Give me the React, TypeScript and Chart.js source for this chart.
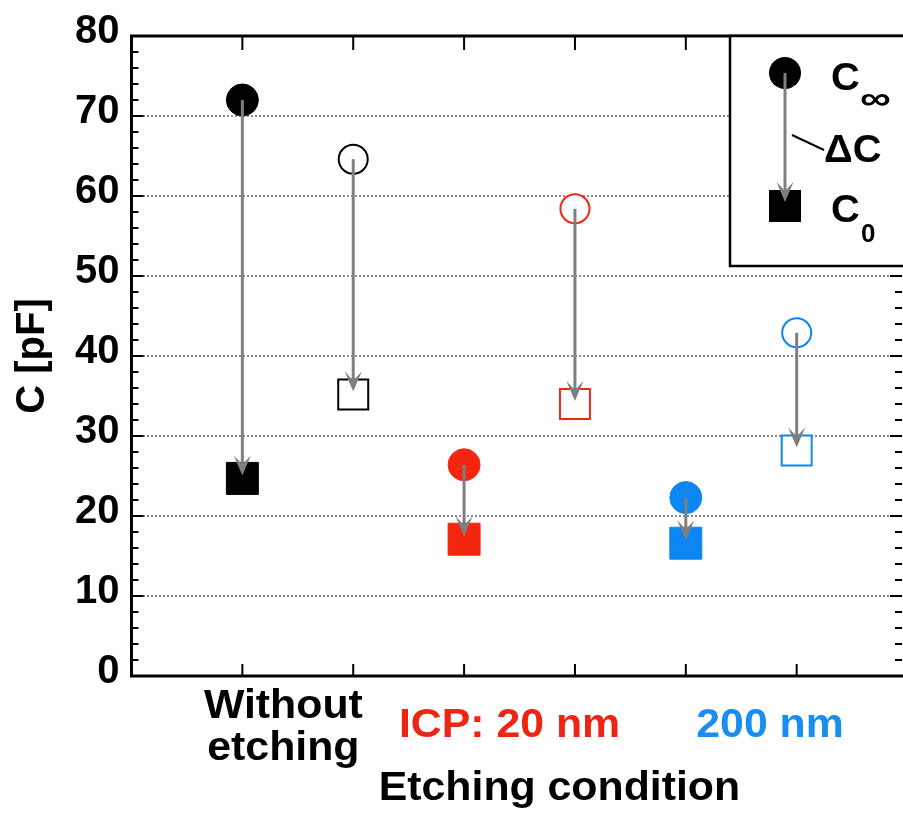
import React, { useEffect, useRef } from 'react';
import { Chart, registerables } from 'chart.js';

Chart.register(...registerables);

// ---- data ----
const conditions = [
  'Without etching (filled)',
  'Without etching (open)',
  'ICP 20 nm (filled)',
  'ICP 20 nm (open)',
  'ICP 200 nm (filled)',
  'ICP 200 nm (open)',
];
const xPositions = [1, 2, 3, 4, 5, 6];
const cInfinity = [72.0, 64.6, 26.4, 58.4, 22.3, 42.9];
const cZero = [24.7, 35.2, 17.1, 34.0, 16.6, 28.2];
const markerColors = ['#000000', '#000000', '#f5260f', '#f5260f', '#0b86f2', '#0b86f2'];
const markerFilled = [true, false, true, false, true, false];
const yTickValues = [0, 10, 20, 30, 40, 50, 60, 70, 80];
const groupLabels = [['Without', 'etching'], ['ICP: 20 nm'], ['200 nm']];
const groupLabelColors = ['#000000', '#ee2414', '#1a8ef0'];

const FONT = '"Liberation Sans", Arial, Helvetica, sans-serif';
const GROUP_ANCHORS = [1.37, 3.41, 5.76];
const ARROW = '#7f7f7f';

function drawArrow(ctx: CanvasRenderingContext2D, x: number, y1: number, y2: number) {
  const headLen = 20;
  const halfW = 8.5;
  const notch = 9;
  ctx.save();
  ctx.strokeStyle = ARROW;
  ctx.fillStyle = ARROW;
  ctx.lineWidth = 3;
  ctx.beginPath();
  ctx.moveTo(x, y1);
  ctx.lineTo(x, y2 - notch);
  ctx.stroke();
  ctx.beginPath();
  ctx.moveTo(x, y2);
  ctx.lineTo(x - halfW, y2 - headLen);
  ctx.lineTo(x, y2 - headLen + notch);
  ctx.lineTo(x + halfW, y2 - headLen);
  ctx.closePath();
  ctx.fill();
  ctx.restore();
}

function wideText(ctx: CanvasRenderingContext2D, text: string, x: number, y: number, sx: number) {
  ctx.save();
  ctx.translate(x, y);
  ctx.scale(sx, 1);
  ctx.fillText(text, 0, 0);
  ctx.restore();
}

const arrowPlugin = {
  id: 'deltaArrows',
  afterDatasetsDraw(chart: any) {
    const ctx = chart.ctx;
    const xs = chart.scales.x;
    const ys = chart.scales.y;
    xPositions.forEach((xv, i) => {
      const x = xs.getPixelForValue(xv);
      drawArrow(ctx, x, ys.getPixelForValue(cInfinity[i]), ys.getPixelForValue(cZero[i]) - 3);
    });
  },
};

const framePlugin = {
  id: 'frameAndText',
  afterDraw(chart: any) {
    const ctx: CanvasRenderingContext2D = chart.ctx;
    const { left, right, top, bottom } = chart.chartArea;
    const xs = chart.scales.x;
    const ys = chart.scales.y;
    const W = chart.width;
    ctx.save();
    // ticks
    ctx.strokeStyle = '#000';
    ctx.lineWidth = 2;
    ctx.beginPath();
    for (let v = 0; v <= 80; v += 2) {
      const y = Math.round(ys.getPixelForValue(v));
      const len = v % 10 === 0 ? 12 : 7;
      ctx.moveTo(left, y);
      ctx.lineTo(left + len, y);
      ctx.moveTo(right, y);
      ctx.lineTo(right - len, y);
    }
    xPositions.forEach((xv) => {
      const x = xs.getPixelForValue(xv);
      ctx.moveTo(x, top);
      ctx.lineTo(x, top + 14);
      ctx.moveTo(x, bottom);
      ctx.lineTo(x, bottom - 12);
    });
    ctx.stroke();
    // frame
    ctx.lineWidth = 3;
    ctx.beginPath();
    ctx.moveTo(W + 5, top);
    ctx.lineTo(left, top);
    ctx.lineTo(left, bottom);
    ctx.lineTo(W + 5, bottom);
    ctx.stroke();

    // legend box
    const bx = right - 172;
    const by = top;
    const bh = 230;
    ctx.fillStyle = '#fff';
    ctx.fillRect(bx, by, W - bx + 5, bh);
    ctx.lineWidth = 2.5;
    ctx.strokeStyle = '#000';
    ctx.beginPath();
    ctx.moveTo(W + 5, by);
    ctx.lineTo(bx, by);
    ctx.lineTo(bx, by + bh);
    ctx.lineTo(W + 5, by + bh);
    ctx.stroke();
    const lx = bx + 55;
    const cy = by + 37;
    const sy = by + 170;
    ctx.fillStyle = '#000';
    ctx.beginPath();
    ctx.arc(lx, cy, 16, 0, Math.PI * 2);
    ctx.fill();
    ctx.fillRect(lx - 16, sy - 16, 32, 32);
    drawArrow(ctx, lx, cy, sy - 4);
    ctx.strokeStyle = '#000';
    ctx.lineWidth = 2;
    ctx.beginPath();
    ctx.moveTo(lx + 7, by + 99);
    ctx.lineTo(lx + 39, by + 114);
    ctx.stroke();
    ctx.fillStyle = '#000';
    ctx.textAlign = 'left';
    ctx.textBaseline = 'alphabetic';
    ctx.font = `bold 38px ${FONT}`;
    wideText(ctx, 'C', lx + 46, by + 54, 1.05);
    wideText(ctx, '\u0394C', lx + 39, by + 126, 1.05);
    wideText(ctx, 'C', lx + 46, by + 186, 1.05);
    ctx.font = `bold 32px ${FONT}`;
    wideText(ctx, '\u221E', lx + 75, by + 73, 1.35);
    ctx.font = `bold 26px ${FONT}`;
    ctx.fillText('0', lx + 76, by + 206);

    // category group labels
    ctx.textAlign = 'center';
    ctx.font = `bold 40px ${FONT}`;
    groupLabels.forEach((lines, gi) => {
      const x = xs.getPixelForValue(GROUP_ANCHORS[gi]);
      ctx.fillStyle = groupLabelColors[gi];
      if (lines.length === 2) {
        wideText(ctx, lines[0], x, bottom + 42, 1.07);
        wideText(ctx, lines[1], x, bottom + 84, 1.07);
      } else {
        wideText(ctx, lines[0], x, bottom + 61, 1.07);
      }
    });
    ctx.fillStyle = '#000';
    wideText(ctx, 'Etching condition', xs.getPixelForValue(3.86), bottom + 124, 1.07);
    ctx.restore();
  },
};

export default function App() {
  const ref = useRef<HTMLCanvasElement | null>(null);
  useEffect(() => {
    if (!ref.current) return;
    const chart = new Chart(ref.current, {
      type: 'scatter',
      data: {
        datasets: [
          {
            label: 'C\u221E',
            data: xPositions.map((x, i) => ({ x, y: cInfinity[i] })),
            pointStyle: 'circle',
            pointRadius: markerFilled.map((f) => (f ? 16 : 14.5)),
            pointBackgroundColor: markerColors.map((c, i) => (markerFilled[i] ? c : '#ffffff')),
            pointBorderColor: markerColors,
            pointBorderWidth: markerFilled.map((f) => (f ? 1 : 2)),
            showLine: false,
          },
          {
            label: 'C0',
            data: xPositions.map((x, i) => ({ x, y: cZero[i] })),
            pointStyle: 'rect',
            pointRadius: markerFilled.map((f) => (f ? 22.6 : 21.2)),
            pointBackgroundColor: markerColors.map((c, i) => (markerFilled[i] ? c : '#ffffff')),
            pointBorderColor: markerColors,
            pointBorderWidth: markerFilled.map((f) => (f ? 1 : 2)),
            showLine: false,
          },
        ],
      },
      options: {
        responsive: false,
        animation: false,
        events: [],
        layout: { autoPadding: false, padding: { left: 5, top: 35, right: 1, bottom: 141 } },
        plugins: {
          legend: { display: false },
          tooltip: { enabled: false },
        },
        scales: {
          x: { type: 'linear', min: 0, max: 6.95, display: false, ticks: { display: false } },
          y: {
            type: 'linear',
            min: 0,
            max: 80,
            afterBuildTicks: (scale: any) => {
              scale.ticks = yTickValues.map((v) => ({ value: v }));
            },
            ticks: {
              color: '#000',
              padding: 12,
              labelOffset: -4,
              font: { family: FONT, size: 40, weight: 'bold' },
            },
            grid: { color: '#8c8c8c', lineWidth: 2, drawTicks: false },
            border: { display: false, dash: [2, 2] },
            title: {
              display: true,
              text: 'C [pF]',
              color: '#000',
              font: { family: FONT, size: 40, weight: 'bold' },
              padding: { top: 4, bottom: 6 },
            },
          },
        },
      },
      plugins: [arrowPlugin, framePlugin],
    });
    return () => chart.destroy();
  }, []);
  return (
    <div style={{ position: 'absolute', left: 0, top: 0, width: 903, height: 817, background: '#fff' }}>
      <canvas ref={ref} width={903} height={817} aria-label={conditions.join(', ')} />
    </div>
  );
}
